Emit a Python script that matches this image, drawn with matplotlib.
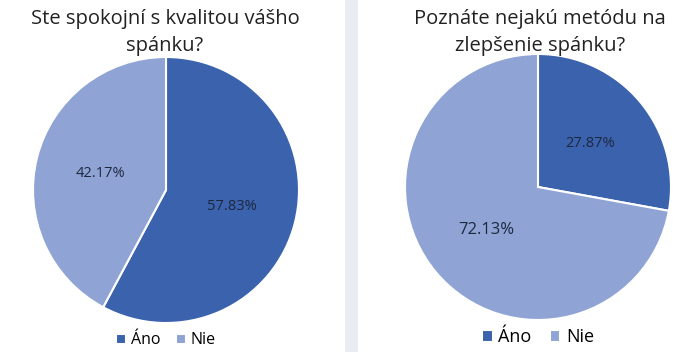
import matplotlib.pyplot as plt
from matplotlib.patches import Rectangle

plt.rcParams['font.family'] = ['Open Sans', 'DejaVu Sans']

# Données
categories = ['Áno', 'Nie']
spokojni = [57.83, 42.17]
metoda = [27.87, 72.13]
titles = ['Ste spokojní s kvalitou vášho\nspánku?', 'Poznáte nejakú metódu na\nzlepšenie spánku?']

colors = ['#3b62ad', '#8fa4d4']

fig = plt.figure(figsize=(7, 3.52), dpi=100)

# séparateur gris
fig.patches.append(Rectangle((345 / 700, 0), 13 / 700, 1, transform=fig.transFigure,
                             facecolor='#e9edf1', edgecolor='none', zorder=0))

positions = [[33 / 700, 29 / 352, 266 / 700, 266 / 352],
             [405 / 700, 32 / 352, 266 / 700, 266 / 352]]
title_x = [165 / 700, 540 / 700]
pct_sizes = [[10.5, 10.5], [10.5, 12]]
legend_sizes = [11.5, 13]

for i, vals in enumerate([spokojni, metoda]):
    ax = fig.add_axes(positions[i])
    wedges, texts, autotexts = ax.pie(vals, colors=colors, startangle=90, counterclock=False,
                                      autopct='%.2f%%', pctdistance=0.51,
                                      wedgeprops=dict(edgecolor='white', linewidth=1.5),
                                      textprops=dict(color='#1e2740'))
    for t, s in zip(autotexts, pct_sizes[i]):
        t.set_fontsize(s)
    ax.set_xlim(-1, 1)
    ax.set_ylim(-1, 1)
    ax.set_aspect('equal')
    fig.text(title_x[i], 1 - 9 / 352, titles[i], ha='center', va='top', fontsize=14.5,
             color='#222222', linespacing=1.45)
    ax.legend(wedges, categories, loc='center', bbox_to_anchor=(0.5, -0.065), ncol=2,
              frameon=False, fontsize=legend_sizes[i], handlelength=0.6, handleheight=0.6,
              handletextpad=0.3, columnspacing=1.0, borderaxespad=0)

plt.savefig('out.png', dpi=100)
